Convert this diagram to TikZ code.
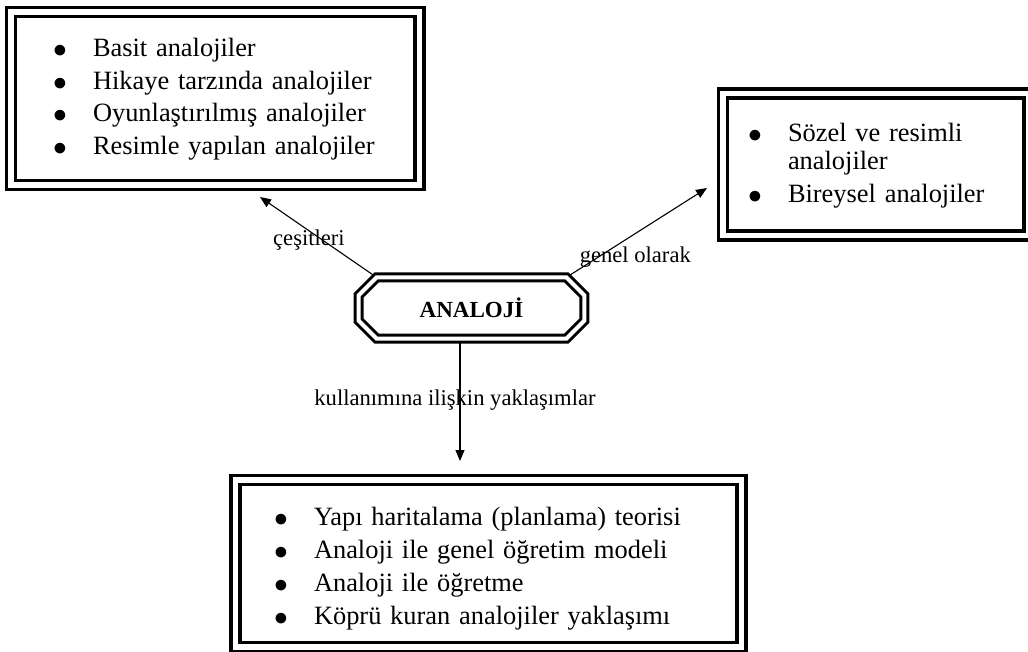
\documentclass[tikz,border=0pt]{standalone}
\usepackage{fontspec}
\setmainfont{Liberation Serif}
\usepackage{xcolor}
\usepackage{tikz}
\usetikzlibrary{positioning,arrows.meta,calc}
\definecolor{ink}{HTML}{000000}
\newcommand{\itm}[1]{\par\noindent\hangindent=20pt\hangafter=1%
  \makebox[20pt][l]{\raisebox{-0.5pt}{\scalebox{1.15}{$\bullet$}}}#1\par}
\newcommand{\padbottom}[1]{\par\kern#1\hrule height 0pt depth 0pt}
\newcommand{\boxfont}{\fontsize{13.2}{13.8}\selectfont\setlength{\parskip}{2.6pt}%
  \hyphenpenalty=10000\exhyphenpenalty=10000}
\tikzset{
  listbox/.style={rectangle,draw=ink,line width=1.7pt,double=white,double distance=2.8pt,
    align=left,font=\boxfont,inner xsep=4pt,inner ysep=0pt},
  lbl/.style={font=\fontsize{11.3}{13}\selectfont,inner sep=0pt},
  fl/.style={-{Triangle[length=5.5pt,width=4.5pt]},draw=ink,line width=0.55pt},
  oct/.style={draw=ink,line width=1.5pt,double=white,double distance=2pt,line join=miter},
}

\begin{document}
\begin{tikzpicture}[x=0.5pt,y=-0.5pt]
  \useasboundingbox[fill=white] (0,0) rectangle (1028,652);
  \node[listbox,minimum height=86.5pt,text width=196.25pt] (kinds) at (215.25,98.5)
    {\leftskip=17pt \itm{Basit analojiler}\itm{Hikaye tarzında analojiler}%
     \itm{Oyunlaştırılmış analojiler}\itm{Resimle yapılan analojiler}\padbottom{6.5pt}};
  \node[listbox,minimum height=71pt,text width=144.75pt] (general) at (875.75,164.5)
    {\leftskip=8.5pt \itm{Sözel ve resimli analojiler}\itm{Bireysel analojiler}\padbottom{6pt}};
  \node[listbox,minimum height=83.5pt,text width=245pt] (usage) at (488.5,563.5)
    {\leftskip=15.25pt \itm{Yapı haritalama (planlama) teorisi}\itm{Analoji ile genel öğretim modeli}%
     \itm{Analoji ile öğretme}\itm{Köprü kuran analojiler yaklaşımı}\padbottom{2pt}};
  \node[minimum width=112.5pt,minimum height=30.25pt,inner sep=0pt,
    font=\fontsize{11.5}{13}\selectfont\bfseries] (an) at (471.5,308) {ANALOJİ};
  \coordinate (kindsTip) at (260,197);
  \coordinate (generalTip) at (707,188);
  \coordinate (usageTip) at (460,461);
  \draw[fl] ([xshift=9pt]an.north west) -- (kindsTip)
    node[lbl,pos=0.58,yshift=-4.5pt] {çeşitleri};
  \draw[fl] ([xshift=-9pt]an.north east) -- (generalTip)
    node[lbl,pos=0.49,yshift=-12pt] {genel olarak};
  \draw[fl] ([xshift=-5.75pt]an.south) -- (usageTip)
    node[lbl,pos=0.5,xshift=-2.5pt] {kullanımına ilişkin yaklaşımlar};
  % octagon frame round the centre node
  \draw[oct] ([xshift=9pt]an.north west) -- ([xshift=-9pt]an.north east)
    -- ([yshift=-9pt]an.north east) -- ([yshift=9pt]an.south east)
    -- ([xshift=-9pt]an.south east) -- ([xshift=9pt]an.south west)
    -- ([yshift=9pt]an.south west) -- ([yshift=-9pt]an.north west) -- cycle;
\end{tikzpicture}
\end{document}
